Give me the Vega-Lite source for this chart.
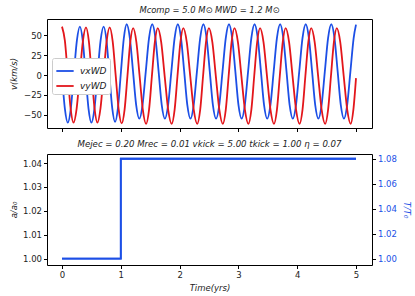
{
  "$schema": "https://vega.github.io/schema/vega-lite/v6.json",
  "padding": {"left": 8, "top": 5, "right": 4, "bottom": 4},
  "datasets": {
    "vel": [
      {"t":0,"v":0,"s":"vx"},{"t":0.049,"v":-42.4,"s":"vx"},{"t":0.098,"v":-60,"s":"vx"},{"t":0.150,"v":-42.3,"s":"vx"},{"t":0.201,"v":0.5,"s":"vx"},{"t":0.253,"v":43.3,"s":"vx"},{"t":0.304,"v":61,"s":"vx"},{"t":0.353,"v":43.3,"s":"vx"},{"t":0.402,"v":0.5,"s":"vx"},{"t":0.451,"v":-42.3,"s":"vx"},{"t":0.500,"v":-60,"s":"vx"},{"t":0.552,"v":-42.3,"s":"vx"},{"t":0.604,"v":0.5,"s":"vx"},{"t":0.656,"v":43.3,"s":"vx"},{"t":0.708,"v":61,"s":"vx"},{"t":0.757,"v":43.4,"s":"vx"},{"t":0.805,"v":1,"s":"vx"},{"t":0.854,"v":-41.4,"s":"vx"},{"t":0.902,"v":-59,"s":"vx"},{"t":0.952,"v":-41,"s":"vx"},{"t":1.001,"v":2.5,"s":"vx"},{"t":1.051,"v":46,"s":"vx"},
      {"t":1.100,"v":64,"s":"vx"},{"t":1.154,"v":46.6,"s":"vx"},{"t":1.208,"v":4.5,"s":"vx"},{"t":1.261,"v":-37.6,"s":"vx"},{"t":1.315,"v":-55,"s":"vx"},{"t":1.370,"v":-37.6,"s":"vx"},{"t":1.425,"v":4.5,"s":"vx"},{"t":1.480,"v":46.6,"s":"vx"},
      {"t":1.535,"v":64,"s":"vx"},{"t":1.589,"v":46.6,"s":"vx"},{"t":1.643,"v":4.5,"s":"vx"},{"t":1.696,"v":-37.6,"s":"vx"},{"t":1.750,"v":-55,"s":"vx"},{"t":1.805,"v":-37.6,"s":"vx"},{"t":1.860,"v":4.5,"s":"vx"},{"t":1.915,"v":46.6,"s":"vx"},
      {"t":1.970,"v":64,"s":"vx"},{"t":2.024,"v":46.6,"s":"vx"},{"t":2.078,"v":4.5,"s":"vx"},{"t":2.131,"v":-37.6,"s":"vx"},{"t":2.185,"v":-55,"s":"vx"},{"t":2.240,"v":-37.6,"s":"vx"},{"t":2.295,"v":4.5,"s":"vx"},{"t":2.350,"v":46.6,"s":"vx"},
      {"t":2.405,"v":64,"s":"vx"},{"t":2.459,"v":46.6,"s":"vx"},{"t":2.513,"v":4.5,"s":"vx"},{"t":2.566,"v":-37.6,"s":"vx"},{"t":2.620,"v":-55,"s":"vx"},{"t":2.675,"v":-37.6,"s":"vx"},{"t":2.730,"v":4.5,"s":"vx"},{"t":2.785,"v":46.6,"s":"vx"},
      {"t":2.840,"v":64,"s":"vx"},{"t":2.894,"v":46.6,"s":"vx"},{"t":2.948,"v":4.5,"s":"vx"},{"t":3.001,"v":-37.6,"s":"vx"},{"t":3.055,"v":-55,"s":"vx"},{"t":3.110,"v":-37.6,"s":"vx"},{"t":3.165,"v":4.5,"s":"vx"},{"t":3.220,"v":46.6,"s":"vx"},
      {"t":3.275,"v":64,"s":"vx"},{"t":3.329,"v":46.6,"s":"vx"},{"t":3.383,"v":4.5,"s":"vx"},{"t":3.436,"v":-37.6,"s":"vx"},{"t":3.490,"v":-55,"s":"vx"},{"t":3.545,"v":-37.6,"s":"vx"},{"t":3.600,"v":4.5,"s":"vx"},{"t":3.655,"v":46.6,"s":"vx"},
      {"t":3.710,"v":64,"s":"vx"},{"t":3.764,"v":46.6,"s":"vx"},{"t":3.818,"v":4.5,"s":"vx"},{"t":3.871,"v":-37.6,"s":"vx"},{"t":3.925,"v":-55,"s":"vx"},{"t":3.980,"v":-37.6,"s":"vx"},{"t":4.035,"v":4.5,"s":"vx"},{"t":4.090,"v":46.6,"s":"vx"},
      {"t":4.145,"v":64,"s":"vx"},{"t":4.199,"v":46.6,"s":"vx"},{"t":4.253,"v":4.5,"s":"vx"},{"t":4.306,"v":-37.6,"s":"vx"},{"t":4.360,"v":-55,"s":"vx"},{"t":4.415,"v":-37.6,"s":"vx"},{"t":4.470,"v":4.5,"s":"vx"},{"t":4.525,"v":46.6,"s":"vx"},
      {"t":4.580,"v":64,"s":"vx"},{"t":4.634,"v":46.6,"s":"vx"},{"t":4.688,"v":4.5,"s":"vx"},{"t":4.741,"v":-37.6,"s":"vx"},{"t":4.795,"v":-55,"s":"vx"},{"t":4.850,"v":-37.6,"s":"vx"},{"t":4.905,"v":4.5,"s":"vx"},{"t":4.960,"v":46.6,"s":"vx"},{"t":5.000,"v":63.5,"s":"vx"},
      {"t":0,"v":61,"s":"vy"},{"t":0.049,"v":43.3,"s":"vy"},{"t":0.098,"v":0.5,"s":"vy"},{"t":0.147,"v":-42.3,"s":"vy"},{"t":0.196,"v":-60,"s":"vy"},{"t":0.249,"v":-42.4,"s":"vy"},{"t":0.302,"v":0,"s":"vy"},{"t":0.355,"v":42.4,"s":"vy"},{"t":0.408,"v":60,"s":"vy"},{"t":0.457,"v":42.4,"s":"vy"},{"t":0.505,"v":0,"s":"vy"},{"t":0.554,"v":-42.4,"s":"vy"},{"t":0.602,"v":-60,"s":"vy"},{"t":0.654,"v":-42.4,"s":"vy"},{"t":0.707,"v":0,"s":"vy"},{"t":0.759,"v":42.4,"s":"vy"},{"t":0.811,"v":60,"s":"vy"},{"t":0.862,"v":42.3,"s":"vy"},{"t":0.913,"v":-0.5,"s":"vy"},{"t":0.964,"v":-43.3,"s":"vy"},
      {"t":1.015,"v":-61,"s":"vy"},{"t":1.064,"v":-43.9,"s":"vy"},{"t":1.113,"v":-1.3,"s":"vy"},{"t":1.161,"v":41.4,"s":"vy"},{"t":1.210,"v":59,"s":"vy"},{"t":1.265,"v":41.4,"s":"vy"},{"t":1.320,"v":-1.3,"s":"vy"},{"t":1.375,"v":-43.9,"s":"vy"},
      {"t":1.430,"v":-61.5,"s":"vy"},{"t":1.480,"v":-43.9,"s":"vy"},{"t":1.529,"v":-1.3,"s":"vy"},{"t":1.579,"v":41.4,"s":"vy"},{"t":1.628,"v":59,"s":"vy"},{"t":1.687,"v":41.4,"s":"vy"},{"t":1.746,"v":-1.3,"s":"vy"},{"t":1.806,"v":-43.9,"s":"vy"},
      {"t":1.865,"v":-61.5,"s":"vy"},{"t":1.915,"v":-43.9,"s":"vy"},{"t":1.964,"v":-1.3,"s":"vy"},{"t":2.014,"v":41.4,"s":"vy"},{"t":2.063,"v":59,"s":"vy"},{"t":2.122,"v":41.4,"s":"vy"},{"t":2.181,"v":-1.3,"s":"vy"},{"t":2.241,"v":-43.9,"s":"vy"},
      {"t":2.300,"v":-61.5,"s":"vy"},{"t":2.350,"v":-43.9,"s":"vy"},{"t":2.399,"v":-1.3,"s":"vy"},{"t":2.449,"v":41.4,"s":"vy"},{"t":2.498,"v":59,"s":"vy"},{"t":2.557,"v":41.4,"s":"vy"},{"t":2.616,"v":-1.3,"s":"vy"},{"t":2.676,"v":-43.9,"s":"vy"},
      {"t":2.735,"v":-61.5,"s":"vy"},{"t":2.785,"v":-43.9,"s":"vy"},{"t":2.834,"v":-1.3,"s":"vy"},{"t":2.884,"v":41.4,"s":"vy"},{"t":2.933,"v":59,"s":"vy"},{"t":2.992,"v":41.4,"s":"vy"},{"t":3.051,"v":-1.3,"s":"vy"},{"t":3.111,"v":-43.9,"s":"vy"},
      {"t":3.170,"v":-61.5,"s":"vy"},{"t":3.220,"v":-43.9,"s":"vy"},{"t":3.269,"v":-1.3,"s":"vy"},{"t":3.319,"v":41.4,"s":"vy"},{"t":3.368,"v":59,"s":"vy"},{"t":3.427,"v":41.4,"s":"vy"},{"t":3.486,"v":-1.3,"s":"vy"},{"t":3.546,"v":-43.9,"s":"vy"},
      {"t":3.605,"v":-61.5,"s":"vy"},{"t":3.655,"v":-43.9,"s":"vy"},{"t":3.704,"v":-1.3,"s":"vy"},{"t":3.754,"v":41.4,"s":"vy"},{"t":3.803,"v":59,"s":"vy"},{"t":3.862,"v":41.4,"s":"vy"},{"t":3.921,"v":-1.3,"s":"vy"},{"t":3.981,"v":-43.9,"s":"vy"},
      {"t":4.040,"v":-61.5,"s":"vy"},{"t":4.090,"v":-43.9,"s":"vy"},{"t":4.139,"v":-1.3,"s":"vy"},{"t":4.189,"v":41.4,"s":"vy"},{"t":4.238,"v":59,"s":"vy"},{"t":4.297,"v":41.4,"s":"vy"},{"t":4.356,"v":-1.3,"s":"vy"},{"t":4.416,"v":-43.9,"s":"vy"},
      {"t":4.475,"v":-61.5,"s":"vy"},{"t":4.525,"v":-43.9,"s":"vy"},{"t":4.574,"v":-1.3,"s":"vy"},{"t":4.624,"v":41.4,"s":"vy"},{"t":4.673,"v":59,"s":"vy"},{"t":4.732,"v":41.4,"s":"vy"},{"t":4.791,"v":-1.3,"s":"vy"},{"t":4.851,"v":-43.9,"s":"vy"},
      {"t":4.910,"v":-61.5,"s":"vy"},{"t":4.955,"v":-44,"s":"vy"},{"t":5.000,"v":-4,"s":"vy"}
    ],
    "step": [
      {"t":0,"a":1.0,"T":1.0},
      {"t":1,"a":1.0418,"T":1.08},
      {"t":5,"a":1.0418,"T":1.08}
    ]
  },
  "vconcat": [
    {
      "width": 325,
      "height": 109,
      "title": {"text": "Mcomp = 5.0 M⊙ MWD = 1.2 M⊙"},
      "data": {"name": "vel"},
      "mark": {"type": "line", "interpolate": "monotone", "strokeWidth": 1.8},
      "encoding": {
        "x": {"field": "t", "type": "quantitative",
              "scale": {"domain": [-0.255, 5.272], "nice": false, "zero": false},
              "axis": {"values": [0,1,2,3,4,5], "labels": false, "title": null}},
        "y": {"field": "v", "type": "quantitative",
              "scale": {"domain": [-66.8, 70.6], "nice": false, "zero": false},
              "axis": {"values": [-50,-25,0,25,50], "title": "v(km/s)", "minExtent": 26, "maxExtent": 26, "titlePadding": 3}},
        "color": {"field": "s", "type": "nominal",
                  "scale": {"domain": ["vx","vy"], "range": ["#1c4fe6","#e3161b"]},
                  "legend": {"orient": "none", "legendX": 5, "legendY": 39, "title": null,
                             "symbolType": "stroke", "symbolSize": 300, "symbolStrokeWidth": 1.8,
                             "labelFontSize": 9, "labelFontStyle": "italic", "labelColor": "#222",
                             "labelExpr": "datum.label + 'WD'",
                             "fillColor": "white", "strokeColor": "#cccccc", "cornerRadius": 2,
                             "padding": 3, "rowPadding": -4, "labelOffset": 5}}
      }
    },
    {
      "width": 325,
      "height": 111,
      "title": {"text": "Mejec = 0.20 Mrec = 0.01 vkick = 5.00 tkick = 1.00 η = 0.07", "fontSize": 8.6},
      "data": {"name": "step"},
      "layer": [
        {
          "mark": {"type": "line", "interpolate": "step-after", "color": "#1c4fe6", "strokeWidth": 1.8},
          "encoding": {
            "x": {"field": "t", "type": "quantitative",
                  "scale": {"domain": [-0.255, 5.272], "nice": false, "zero": false},
                  "axis": {"values": [0,1,2,3,4,5], "format": "d", "title": "Time(yrs)", "titlePadding": 4}},
            "y": {"field": "a", "type": "quantitative",
                  "scale": {"domain": [0.9973, 1.0438], "nice": false, "zero": false},
                  "axis": {"values": [1.0,1.01,1.02,1.03,1.04], "format": ".2f", "title": "a/a₀", "minExtent": 26, "maxExtent": 26, "titlePadding": 3}}
          }
        },
        {
          "mark": {"type": "line", "interpolate": "step-after", "color": "#1c4fe6", "strokeWidth": 1.8},
          "encoding": {
            "x": {"field": "t", "type": "quantitative"},
            "y": {"field": "T", "type": "quantitative",
                  "scale": {"domain": [0.9949, 1.0838], "nice": false, "zero": false},
                  "axis": {"orient": "right", "values": [1.0,1.02,1.04,1.06,1.08], "format": ".2f", "title": "T/T₀",
                           "labelColor": "#1c4fe6", "titleColor": "#1c4fe6", "titlePadding": 5}}
          }
        }
      ],
      "resolve": {"scale": {"y": "independent"}}
    }
  ],
  "spacing": 6,
  "config": {
    "font": "DejaVu Sans",
    "view": {"stroke": "#000000", "strokeWidth": 1},
    "axis": {"grid": false, "domain": false, "tickColor": "#000000", "tickSize": 3.5,
             "labelFontSize": 8.5, "labelColor": "#222222", "labelPadding": 2,
             "titleFontSize": 8.5, "titleFontWeight": "normal", "titleFontStyle": "italic", "titleColor": "#222222"},
    "title": {"fontSize": 8.4, "fontWeight": "normal", "fontStyle": "italic", "color": "#222222", "offset": 5}
  }
}
